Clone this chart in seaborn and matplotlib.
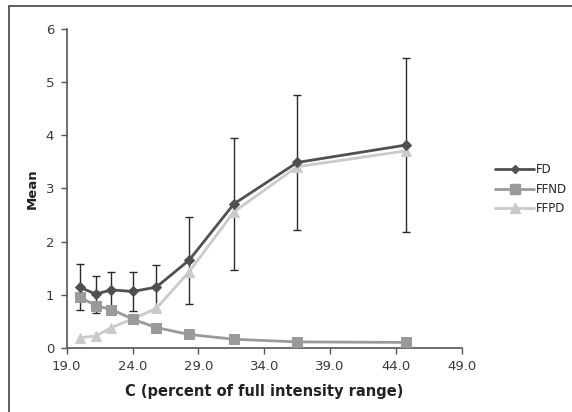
import matplotlib
matplotlib.use("Agg")
import matplotlib.pyplot as plt
import seaborn as sns
import pandas as pd
from matplotlib.lines import Line2D

sns.set_style("white")
plt.rcParams['font.family'] = ['DejaVu Sans']

c_vals = [20.0, 21.2, 22.4, 24.0, 25.8, 28.3, 31.7, 36.5, 44.8]
fd = [1.14, 1.01, 1.09, 1.06, 1.14, 1.65, 2.71, 3.49, 3.82]
fd_err = [0.43, 0.35, 0.34, 0.36, 0.42, 0.82, 1.25, 1.28, 1.64]
ffnd = [0.96, 0.79, 0.72, 0.54, 0.38, 0.25, 0.16, 0.11, 0.10]
ffpd = [0.19, 0.22, 0.38, 0.54, 0.74, 1.43, 2.56, 3.41, 3.71]
series_names = ["FD", "FFND", "FFPD"]
x_ticks = [19.0, 24.0, 29.0, 34.0, 39.0, 44.0, 49.0]
y_ticks = [0, 1, 2, 3, 4, 5, 6]

df = pd.DataFrame({
    "C": c_vals * 3,
    "Mean": fd + ffnd + ffpd,
    "Series": [s for s in series_names for _ in c_vals],
})

colors = {"FD": "#505050", "FFND": "#9a9a9a", "FFPD": "#cacaca"}
markers = {"FD": "D", "FFND": "s", "FFPD": "^"}
msize = {"FD": 5.5, "FFND": 7.5, "FFPD": 7.5}

fig = plt.figure(figsize=(5.72, 4.12), dpi=100)
ax = fig.add_axes([0.1166, 0.156, 0.6906, 0.773])

ax.errorbar(c_vals, fd, yerr=fd_err, fmt="none", ecolor="#2a2a2a",
            elinewidth=1.0, capsize=3, capthick=1.0, zorder=1)

handles = []
for name in ["FFPD", "FFND", "FD"]:
    sub = df[df["Series"] == name]
    sns.lineplot(data=sub, x="C", y="Mean", ax=ax, color=colors[name],
                 marker=markers[name], markersize=msize[name], linewidth=2,
                 markeredgecolor=colors[name], legend=False, zorder=3)
for name in series_names:
    handles.append(Line2D([0], [0], color=colors[name], marker=markers[name],
                          markersize=msize[name] - 1, linewidth=2,
                          markeredgecolor=colors[name], label=name))

ax.set_xlim(19.0, 49.0)
ax.set_ylim(0, 6)
ax.set_xticks(x_ticks)
ax.set_xticklabels([f"{t:.1f}" for t in x_ticks])
ax.set_yticks(y_ticks)
ax.tick_params(axis="both", direction="out", length=4, width=1, color="#555555",
               labelsize=9.5, labelcolor="#3a3a3a", pad=5, bottom=True, left=True)
for s in ["top", "right"]:
    ax.spines[s].set_visible(False)
for s in ["left", "bottom"]:
    ax.spines[s].set_color("#555555")
    ax.spines[s].set_linewidth(1.2)

ax.set_xlabel("C (percent of full intensity range)", fontsize=10.5, fontweight="bold",
              color="#222222", labelpad=8)
ax.set_ylabel("Mean", fontsize=9.5, fontweight="bold", color="#222222", labelpad=5)

fig.legend(handles=handles, loc="upper left", bbox_to_anchor=(0.858, 0.615),
           frameon=False, fontsize=8.5, handlelength=3.3, handletextpad=0.1,
           labelspacing=0.55, borderaxespad=0)

# outer frame (left and top edges of the cropped chart border)
fig.add_artist(Line2D([9 / 572, 9 / 572], [0, 1 - 6 / 412], transform=fig.transFigure,
                      color="#444444", linewidth=1.2))
fig.add_artist(Line2D([9 / 572, 1], [1 - 6 / 412, 1 - 6 / 412], transform=fig.transFigure,
                      color="#444444", linewidth=1.2))

fig.savefig("out.png", dpi=100)
